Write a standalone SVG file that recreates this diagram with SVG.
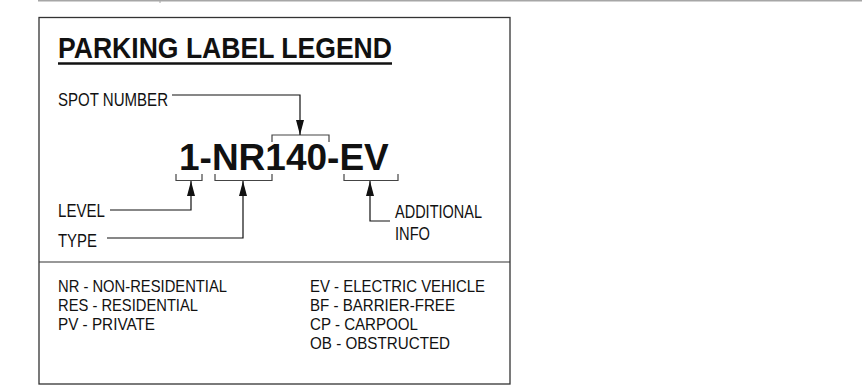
<svg xmlns="http://www.w3.org/2000/svg" width="866" height="391" viewBox="0 0 866 391">
  <style>
    text { font-family: "Liberation Sans", Arial, sans-serif; fill: #111; }
    .lbl { font-size: 18.5px; }
    .leg { font-size: 17px; }
    .title { font-size: 29.5px; font-weight: bold; }
    .code { font-size: 37px; font-weight: bold; }
    .conn { fill: none; stroke: #111; stroke-width: 1.2; }
    .brk { fill: none; stroke: #444; stroke-width: 1.2; }
  </style>
  <defs>
    <marker id="arr" markerUnits="userSpaceOnUse" markerWidth="16" markerHeight="10" refX="15" refY="4" orient="auto">
      <path d="M0,0 L15,4 L0,8 Z" fill="#111"/>
    </marker>
  </defs>
  <rect width="866" height="391" fill="#fff"/>
  <g id="frame">
    <line x1="38" y1="0.75" x2="862" y2="0.75" stroke="#a6a6a6" stroke-width="1.5"/>
    <line x1="160" y1="0" x2="160" y2="3" stroke="#a6a6a6" stroke-width="1"/>
    <rect x="39" y="17.5" width="471" height="366.5" fill="none" stroke="#333" stroke-width="1.3"/>
    <line x1="39" y1="262" x2="510" y2="262" stroke="#333" stroke-width="1.2"/>
  </g>
  <g id="title">
    <text class="title" x="58" y="58" textLength="334" lengthAdjust="spacingAndGlyphs">PARKING LABEL LEGEND</text>
    <line x1="58" y1="63.5" x2="392" y2="63.5" stroke="#111" stroke-width="2.5"/>
  </g>
  <g id="code">
    <text class="code" x="179" y="170">1-NR140-EV</text>
  </g>
  <g id="brackets">
    <path class="brk" d="M272,142 V135 H329 V142"/>
    <path class="brk" d="M176,174 V180.5 H202 V174"/>
    <path class="brk" d="M215,174 V180.5 H272 V174"/>
    <path class="brk" d="M344,174 V180.5 H398 V174"/>
  </g>
  <g id="spot-number">
    <text class="lbl" x="58" y="106" textLength="110" lengthAdjust="spacingAndGlyphs">SPOT NUMBER</text>
  </g>
  <g id="level">
    <text class="lbl" x="58" y="217" textLength="47" lengthAdjust="spacingAndGlyphs">LEVEL</text>
  </g>
  <g id="type">
    <text class="lbl" x="58" y="246.5" textLength="39" lengthAdjust="spacingAndGlyphs">TYPE</text>
  </g>
  <g id="additional-info">
    <text class="lbl" x="395" y="218" textLength="87" lengthAdjust="spacingAndGlyphs">ADDITIONAL</text>
    <text class="lbl" x="395" y="239.5" textLength="35" lengthAdjust="spacingAndGlyphs">INFO</text>
  </g>
  <g id="connectors">
    <path class="conn" d="M172,95 H300 V135" marker-end="url(#arr)"/>
    <path class="conn" d="M110,210 H191 V181" marker-end="url(#arr)"/>
    <path class="conn" d="M107,238 H243 V181" marker-end="url(#arr)"/>
    <path class="conn" d="M390,221 H370 V181" marker-end="url(#arr)"/>
  </g>
  <g id="legend">
    <text class="leg" x="58" y="292" textLength="169" lengthAdjust="spacingAndGlyphs">NR - NON-RESIDENTIAL</text>
    <text class="leg" x="58" y="311" textLength="140" lengthAdjust="spacingAndGlyphs">RES - RESIDENTIAL</text>
    <text class="leg" x="58" y="330" textLength="97" lengthAdjust="spacingAndGlyphs">PV - PRIVATE</text>
    <text class="leg" x="310" y="292" textLength="175" lengthAdjust="spacingAndGlyphs">EV - ELECTRIC VEHICLE</text>
    <text class="leg" x="310" y="311" textLength="145" lengthAdjust="spacingAndGlyphs">BF - BARRIER-FREE</text>
    <text class="leg" x="310" y="330" textLength="108" lengthAdjust="spacingAndGlyphs">CP - CARPOOL</text>
    <text class="leg" x="310" y="349" textLength="140" lengthAdjust="spacingAndGlyphs">OB - OBSTRUCTED</text>
  </g>
</svg>
